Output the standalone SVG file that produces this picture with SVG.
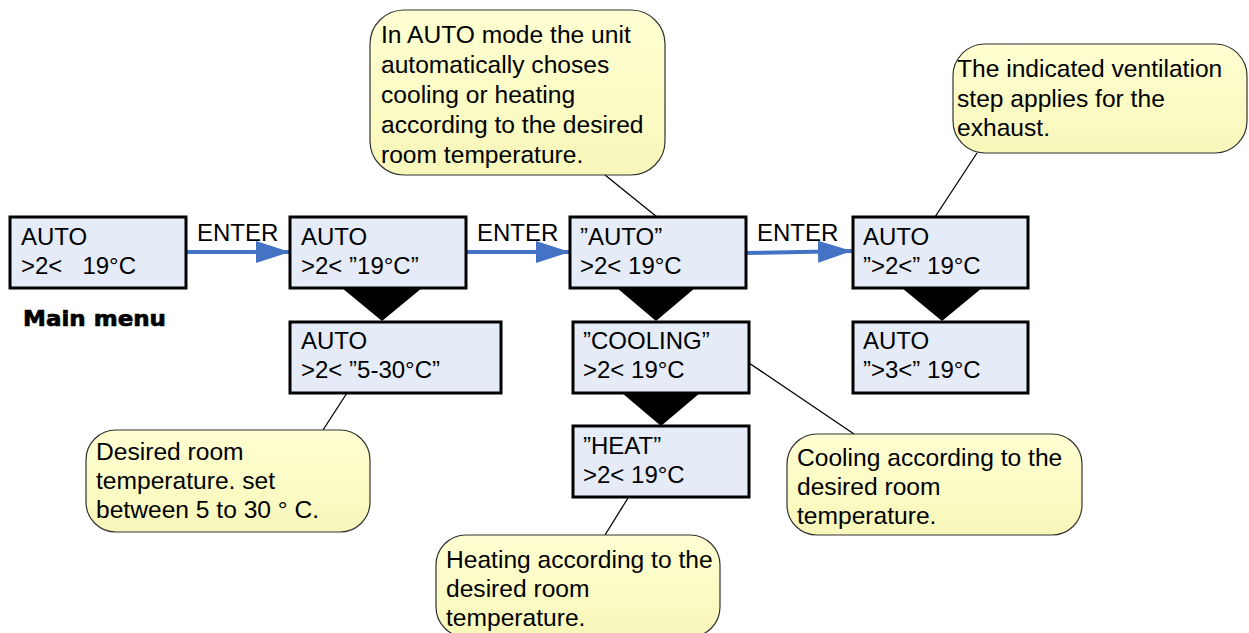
<svg xmlns="http://www.w3.org/2000/svg" width="1249" height="633" viewBox="0 0 1249 633">
<style>
  .box { fill: #E5ECF7; stroke: #000; stroke-width: 3; }
  .t { font-family: "Liberation Sans", Arial, sans-serif; font-size: 24px; fill: #000; white-space: pre; }
  .c { font-family: "Liberation Sans", Arial, sans-serif; font-size: 24.6px; fill: #000; white-space: pre; }
  .call { fill: url(#cg); stroke: #333; stroke-width: 1.2; }
  .lead { stroke: #000; stroke-width: 1.3; fill: none; }
  .tri { fill: #000; }
  .arr { stroke: #4472C4; stroke-width: 4; fill: none; marker-end: url(#ah); }
  .main { font-family: "DejaVu Sans", "Liberation Sans", sans-serif; font-weight: bold; font-size: 22px; fill: #000; stroke: #000; stroke-width: 0.7; }
</style>
<defs>
  <linearGradient id="cg" x1="0" y1="0" x2="0" y2="1">
    <stop offset="0" stop-color="#FFFFD2"/>
    <stop offset="1" stop-color="#F7F7BA"/>
  </linearGradient>
  <marker id="ah" markerUnits="userSpaceOnUse" viewBox="0 0 34 22" refX="34" refY="11" markerWidth="34" markerHeight="22" orient="auto">
    <path d="M0,0 L34,11 L0,22 Z" fill="#4472C4"/>
  </marker>
</defs>

<g id="connectors">
  <line class="arr" x1="186" y1="252" x2="290" y2="252"/>
  <line class="arr" x1="466" y1="252" x2="570" y2="252"/>
  <line class="arr" x1="746" y1="253" x2="852" y2="251"/>
  <polygon class="tri" points="342,288 422,288 382,321"/>
  <polygon class="tri" points="617,288 695,288 656,321"/>
  <polygon class="tri" points="622,393 700,393 661,426"/>
  <polygon class="tri" points="902,288 982,288 942,321"/>
  <line class="lead" x1="605" y1="175" x2="657" y2="217"/>
  <line class="lead" x1="977" y1="153" x2="935" y2="217"/>
  <line class="lead" x1="323" y1="430" x2="347" y2="393"/>
  <line class="lead" x1="605" y1="535" x2="628" y2="498"/>
  <line class="lead" x1="854" y1="434" x2="749" y2="363"/>
  <text class="t" x="197" y="241">ENTER</text>
  <text class="t" x="477" y="241">ENTER</text>
  <text class="t" x="757" y="241">ENTER</text>
</g>

<g id="main-menu">
  <rect class="box" x="10" y="217" width="176" height="71"/>
  <text class="t" x="21" y="245">AUTO</text>
  <text class="t" x="21" y="274">&gt;2&lt;   19°C</text>
  <text class="main" x="23" y="326" textLength="143" lengthAdjust="spacingAndGlyphs">Main menu</text>
</g>

<g id="set-temp">
  <rect class="box" x="290" y="217" width="176" height="71"/>
  <text class="t" x="301" y="245">AUTO</text>
  <text class="t" x="301" y="274">&gt;2&lt; ”19°C”</text>
</g>

<g id="temp-range">
  <rect class="box" x="290" y="322" width="211" height="71"/>
  <text class="t" x="301" y="349">AUTO</text>
  <text class="t" x="301" y="378">&gt;2&lt; ”5-30°C”</text>
</g>

<g id="mode-auto">
  <rect class="box" x="570" y="217" width="176" height="71"/>
  <text class="t" x="580" y="245">”AUTO”</text>
  <text class="t" x="580" y="274">&gt;2&lt; 19°C</text>
</g>

<g id="mode-cooling">
  <rect class="box" x="573" y="322" width="176" height="71"/>
  <text class="t" x="583" y="349">”COOLING”</text>
  <text class="t" x="583" y="378">&gt;2&lt; 19°C</text>
</g>

<g id="mode-heat">
  <rect class="box" x="573" y="426" width="176" height="71"/>
  <text class="t" x="583" y="454">”HEAT”</text>
  <text class="t" x="583" y="483">&gt;2&lt; 19°C</text>
</g>

<g id="vent-2">
  <rect class="box" x="853" y="217" width="175" height="71"/>
  <text class="t" x="863" y="245">AUTO</text>
  <text class="t" x="863" y="274">”&gt;2&lt;” 19°C</text>
</g>

<g id="vent-3">
  <rect class="box" x="853" y="322" width="175" height="71"/>
  <text class="t" x="863" y="349">AUTO</text>
  <text class="t" x="863" y="378">”&gt;3&lt;” 19°C</text>
</g>

<g id="note-auto">
  <rect class="call" x="370" y="10" width="295" height="165" rx="34" ry="34"/>
  <text class="c" x="381" y="43">In AUTO mode the unit</text>
  <text class="c" x="381" y="73">automatically choses</text>
  <text class="c" x="381" y="103">cooling or heating</text>
  <text class="c" x="381" y="133">according to the desired</text>
  <text class="c" x="381" y="163">room temperature.</text>
</g>

<g id="note-vent">
  <rect class="call" x="953" y="44" width="294" height="109" rx="32" ry="32"/>
  <text class="c" x="957" y="77">The indicated ventilation</text>
  <text class="c" x="957" y="107">step applies for the</text>
  <text class="c" x="957" y="136">exhaust.</text>
</g>

<g id="note-range">
  <rect class="call" x="86" y="430" width="284" height="102" rx="30" ry="30"/>
  <text class="c" x="96" y="460">Desired room</text>
  <text class="c" x="96" y="489">temperature. set</text>
  <text class="c" x="96" y="518">between 5 to 30 ° C.</text>
</g>

<g id="note-heat">
  <rect class="call" x="436" y="535" width="284" height="102" rx="30" ry="30"/>
  <text class="c" x="446" y="568">Heating according to the</text>
  <text class="c" x="446" y="597">desired room</text>
  <text class="c" x="446" y="626">temperature.</text>
</g>

<g id="note-cool">
  <rect class="call" x="787" y="434" width="295" height="101" rx="30" ry="30"/>
  <text class="c" x="797" y="466">Cooling according to the</text>
  <text class="c" x="797" y="495">desired room</text>
  <text class="c" x="797" y="524">temperature.</text>
</g>
</svg>
